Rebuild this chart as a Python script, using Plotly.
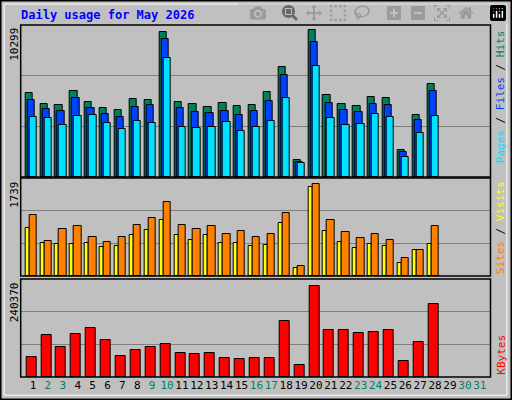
import plotly.graph_objects as go

# daily stats, May 2026 (days 29-31 empty)
days = list(range(1, 29))
hits = [5900, 5130, 5060, 6040, 5270, 4850, 4710, 5480, 5410, 10170, 5270, 5130, 4920, 5200,
        4990, 5060, 5970, 7720, 1205, 10299, 5760, 5130, 4990, 5620, 5550, 1905, 4360, 6530]
files = [5410, 4780, 4640, 5550, 4850, 4430, 4220, 4920, 5060, 9680, 4850, 4570, 4500, 4640,
         4360, 4640, 5340, 7160, 1065, 9470, 5200, 4710, 4570, 5130, 5060, 1765, 4010, 6040]
pages = [4220, 4150, 3660, 4290, 4360, 3800, 3380, 3940, 3800, 8350, 3520, 3450, 3520, 3870,
         3240, 3520, 3940, 5550, 995, 7790, 4150, 3660, 3730, 4430, 4220, 1415, 3100, 4290]
sites = [907, 624, 605, 605, 624, 548, 567, 775, 870, 1058, 775, 680, 775, 624,
         624, 567, 586, 1002, 151, 1682, 851, 643, 529, 605, 567, 246, 491, 605]
visits = [1153, 662, 888, 945, 737, 643, 737, 964, 1096, 1399, 964, 888, 945, 794,
          851, 737, 794, 1191, 189, 1739, 1058, 832, 718, 794, 680, 340, 491, 945]
kbytes = [53510, 111410, 79830, 114040, 129840, 98250, 56140, 71940, 79830, 87730, 64040, 61410,
          64040, 50880, 48250, 50880, 50880, 148260, 32460, 240370, 124570, 124570, 116680,
          119310, 124570, 42990, 92990, 193000]
all_days = list(range(1, 32))
weekend = {2, 3, 9, 10, 16, 17, 23, 24, 30, 31}
tick_text = ["<span style='color:#00805C'>%d</span>" % d if d in weekend else str(d) for d in all_days]

FONT = "DejaVu Sans Mono"
line = dict(color="black", width=1)

fig = go.Figure()
def bar(y, color, off, w, ax):
    fig.add_trace(go.Bar(x=days, y=y, marker=dict(color=color, line=line),
                         offset=off, width=w, xaxis="x" if ax == "" else "x" + ax,
                         yaxis="y" if ax == "" else "y" + ax, hoverinfo="y"))

bar(hits, "#00805C", -0.52, 0.49, "")
bar(files, "#0040FF", -0.38, 0.49, "")
bar(pages, "#00E0FF", -0.25, 0.49, "")
bar(sites, "#FFFF00", -0.52, 0.27, "2")
bar(visits, "#FF8000", -0.25, 0.49, "2")
bar(kbytes, "#FF0000", -0.45, 0.67, "3")

xr = [0.17, 31.72]
xd = [0.0404, 0.958]
ax_common = dict(range=xr, domain=xd, showgrid=False, zeroline=False, fixedrange=True)
def yax(top, dom):
    return dict(range=[0, top], domain=dom, tickvals=[top / 3, 2 * top / 3], showticklabels=False,
                gridcolor="#808080", gridwidth=1, zeroline=False, ticks="")

fig.update_layout(
    width=512, height=400, margin=dict(l=0, r=0, t=0, b=0),
    paper_bgcolor="#C0C0C0", plot_bgcolor="#C0C0C0",
    barmode="overlay", showlegend=False, bargap=0,
    font=dict(family=FONT, size=11, color="black"),
    xaxis=dict(ax_common, anchor="y", showticklabels=False),
    xaxis2=dict(ax_common, anchor="y2", showticklabels=False),
    xaxis3=dict(ax_common, anchor="y3", tickvals=all_days, ticktext=tick_text, tickangle=0,
                tickfont=dict(family=FONT, size=11), ticks=""),
    yaxis=yax(10650, [0.5575, 0.9375]),
    yaxis2=yax(1852, [0.31, 0.555]),
    yaxis3=yax(258000, [0.0575, 0.3025]),
)

# panel frames and outer bevel
shapes = [dict(type="rect", xref="paper", yref="paper", x0=0.001, x1=0.999, y0=0.001, y1=0.999,
               line=dict(color="black", width=2)),
          dict(type="rect", xref="paper", yref="paper", x0=0.008, x1=0.99, y0=0.012, y1=0.99,
               line=dict(color="white", width=1))]
for d in ([0.5575, 0.9375], [0.31, 0.555], [0.0575, 0.3025]):
    shapes.append(dict(type="rect", xref="paper", yref="paper", x0=xd[0], x1=xd[1], y0=d[0], y1=d[1],
                       line=dict(color="black", width=1.5)))
fig.update_layout(shapes=shapes)

ann = [
    dict(text="<b>Daily usage for May 2026</b>", x=0.037, y=0.985, xanchor="left", yanchor="top",
         font=dict(color="#0000FF", size=12, family=FONT)),
    dict(text="10299", x=0.028, y=0.935, textangle=-90, yanchor="top"),
    dict(text="1739", x=0.028, y=0.552, textangle=-90, yanchor="top"),
    dict(text="240370", x=0.028, y=0.3, textangle=-90, yanchor="top"),
    dict(text="<span style='color:#00E0FF'>Pages</span> / <span style='color:#0040FF'>Files</span>"
              " / <span style='color:#00805C'>Hits</span>", x=0.978, y=0.93, textangle=-90, yanchor="top"),
    dict(text="<span style='color:#FF8000'>Sites</span> / <span style='color:#FFFF00'>Visits</span>",
         x=0.978, y=0.31, textangle=-90, yanchor="bottom"),
    dict(text="<span style='color:#FF0000'>KBytes</span>", x=0.978, y=0.0575, textangle=-90, yanchor="bottom"),
]
for a in ann:
    a.setdefault("font", dict(family=FONT, size=11, color="black"))
    a.update(xref="paper", yref="paper", showarrow=False, xanchor=a.get("xanchor", "center"))
fig.update_layout(annotations=ann)

fig.write_html("out.html", post_script="document.body.style.margin='0';document.body.style.overflow='hidden';")
